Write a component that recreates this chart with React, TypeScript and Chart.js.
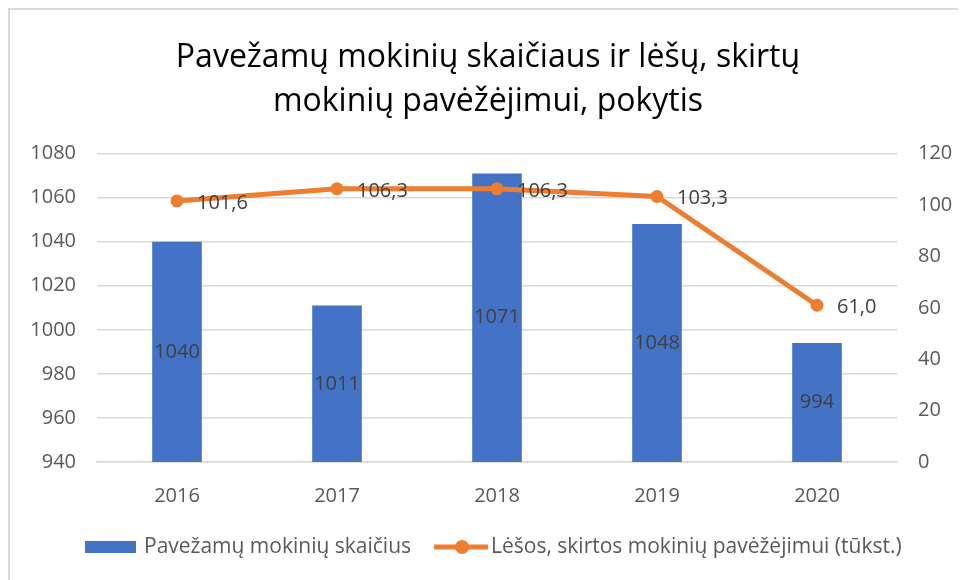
import React, { useEffect, useRef } from "react";
import { Chart, registerables } from "chart.js";

Chart.register(...registerables);

const categories = ["2016", "2017", "2018", "2019", "2020"];
const studentCounts = [1040, 1011, 1071, 1048, 994];
const fundsValues = [101.6, 106.3, 106.3, 103.3, 61.0];
const titleLines = ["Pavežamų mokinių skaičiaus ir lėšų, skirtų", "mokinių pavėžėjimui, pokytis"];
const barLabel = "Pavežamų mokinių skaičius";
const lineLabel = "Lėšos, skirtos mokinių pavėžėjimui (tūkst.)";

const FONT = "'Open Sans', sans-serif";
const BLUE = "#4472C4";
const ORANGE = "#ED7D31";
const TICK = "#595959";
const LABEL = "#404040";
const GRID = "#d9d9d9";

const fmt = (v: number) => v.toFixed(1).replace(".", ",");

const labelsPlugin = {
  id: "customLabels",
  afterDatasetsDraw(chart: any) {
    const ctx = chart.ctx;
    const area = chart.chartArea;
    ctx.save();
    ctx.font = `20px ${FONT}`;
    ctx.fillStyle = LABEL;
    ctx.textBaseline = "middle";
    const barMeta = chart.getDatasetMeta(0);
    barMeta.data.forEach((el: any, i: number) => {
      const y = (el.y + Math.min(el.base, area.bottom)) / 2;
      ctx.textAlign = "center";
      ctx.fillText(String(studentCounts[i]), el.x, y);
    });
    const lineMeta = chart.getDatasetMeta(1);
    lineMeta.data.forEach((el: any, i: number) => {
      ctx.textAlign = "left";
      ctx.fillText(fmt(fundsValues[i]), el.x + 20, el.y + 2);
    });
    ctx.restore();
  },
  afterDraw(chart: any) {
    const ctx = chart.ctx;
    ctx.save();
    const cy = 537;
    ctx.fillStyle = BLUE;
    ctx.fillRect(75, cy - 6, 51, 12);
    ctx.font = `21px ${FONT}`;
    ctx.fillStyle = TICK;
    ctx.textBaseline = "middle";
    ctx.textAlign = "left";
    ctx.fillText(barLabel, 134, cy);
    ctx.strokeStyle = ORANGE;
    ctx.lineWidth = 5;
    ctx.beginPath();
    ctx.moveTo(424, cy);
    ctx.lineTo(478, cy);
    ctx.stroke();
    ctx.fillStyle = ORANGE;
    ctx.beginPath();
    ctx.arc(452, cy, 7, 0, Math.PI * 2);
    ctx.fill();
    ctx.fillStyle = TICK;
    ctx.fillText(lineLabel, 481, cy);
    ctx.restore();
  },
};

export default function App() {
  const ref = useRef<HTMLCanvasElement | null>(null);
  useEffect(() => {
    if (!ref.current) return;
    const chart = new Chart(ref.current, {
      type: "bar",
      data: {
        labels: categories,
        datasets: [
          {
            type: "bar",
            label: barLabel,
            data: studentCounts,
            backgroundColor: BLUE,
            yAxisID: "y",
            categoryPercentage: 1,
            barPercentage: 0.31,
            order: 2,
          },
          {
            type: "line",
            label: lineLabel,
            data: fundsValues,
            borderColor: ORANGE,
            backgroundColor: ORANGE,
            borderWidth: 5,
            pointRadius: 6.5,
            pointHoverRadius: 6.5,
            pointBackgroundColor: ORANGE,
            pointBorderWidth: 0,
            yAxisID: "y1",
            order: 1,
          } as any,
        ],
      },
      options: {
        responsive: false,
        animation: false,
        devicePixelRatio: 1,
        layout: { padding: 0 },
        plugins: {
          legend: { display: false },
          tooltip: { enabled: false },
          title: {
            display: true,
            text: titleLines,
            color: "#000000",
            font: { family: FONT, size: 32, weight: "normal", lineHeight: 1.4 },
            padding: { top: 25, bottom: 29 },
          },
        },
        scales: {
          x: {
            grid: { display: false },
            border: { display: true, color: GRID, width: 1.5 },
            ticks: { color: TICK, font: { family: FONT, size: 20 }, padding: 14 },
            afterFit: (s: any) => { s.height = 118; },
          },
          y: {
            position: "left",
            min: 940,
            max: 1080,
            ticks: {
              stepSize: 20,
              color: TICK,
              font: { family: FONT, size: 20 },
              padding: 21,
              callback: (v: any) => String(v),
            },
            grid: { color: GRID, lineWidth: 1.5, drawTicks: false },
            border: { display: false },
            afterFit: (s: any) => { s.width = 87; },
          },
          y1: {
            position: "right",
            min: 0,
            max: 120,
            ticks: {
              stepSize: 20,
              color: TICK,
              font: { family: FONT, size: 20 },
              padding: 21,
              callback: (v: any) => String(v),
            },
            grid: { display: false, drawTicks: false },
            border: { display: false },
            afterFit: (s: any) => { s.width = 69; },
          },
        },
      },
      plugins: [labelsPlugin],
    });
    return () => chart.destroy();
  }, []);
  return (
    <div style={{ width: 958, height: 572, overflow: "hidden", position: "relative" }}>
      <div
        style={{
          position: "absolute",
          left: 0,
          top: 0,
          width: 1000,
          height: 620,
          borderTop: "2px solid #d9d9d9",
          borderLeft: "2px solid #d9d9d9",
          background: "#fff",
        }}
      >
        <canvas ref={ref} width={956} height={570} style={{ display: "block" }} />
      </div>
    </div>
  );
}
